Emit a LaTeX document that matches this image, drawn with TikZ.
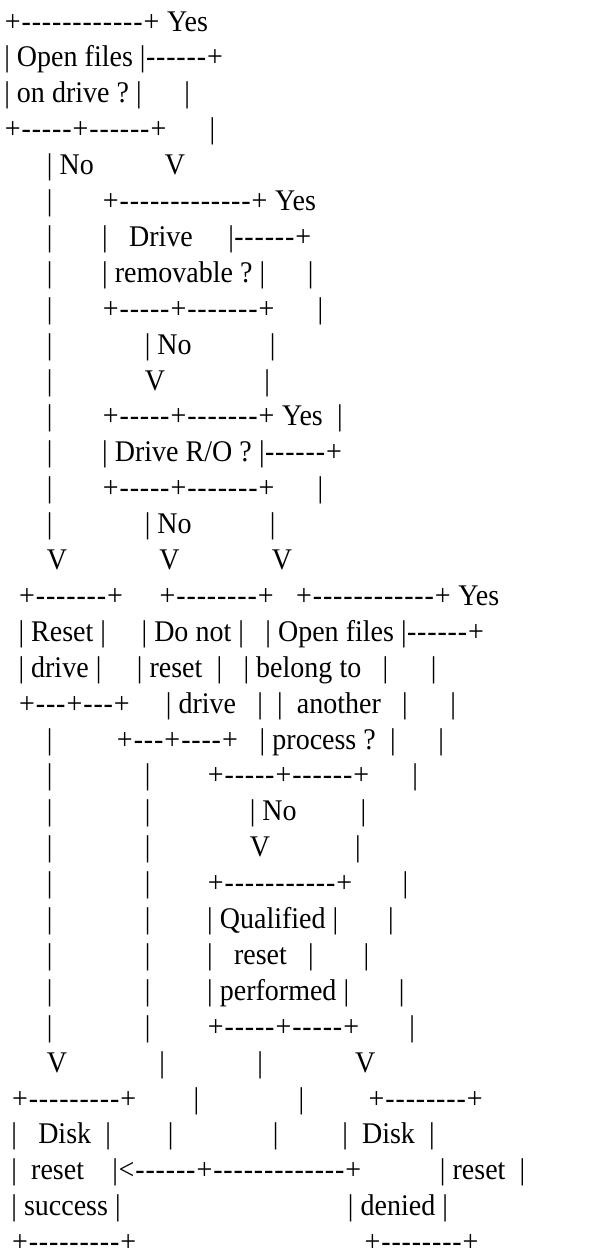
\documentclass[tikz,border=0pt]{standalone}
\usepackage{fontspec}
\newfontfamily\asc{Liberation Serif}[FakeStretch=0.933]
% widths of the box-drawing characters and of the blank
\newdimen\dashw \dashw=10.15pt
\newdimen\plusw \plusw=17pt
\newdimen\barw  \barw=5.5pt
\newdimen\spw   \spw=7.1pt
\gdef~{\hskip\spw\relax}
\begingroup
\catcode`\-=\active
\catcode`\+=\active
\catcode`\|=\active
\catcode`\<=\active
\gdef-{\hbox to\dashw{\hss\char"2D\hss}}
\gdef+{\hbox to\plusw{\hss\char"2B\hss}}
\gdef|{\hbox to\barw{\hss\char"7C\hss}}
\gdef<{\hbox to\plusw{\hss\char"3C\hss}}
\gdef\rowA{+------------+~Yes}
\gdef\rowB{|~Open~files~|------+}
\gdef\rowC{|~on~drive~?~|~~~~~~|}
\gdef\rowD{+-----+------+~~~~~~|}
\gdef\rowE{~~~~~~|~No~~~~~~~~~~V}
\gdef\rowF{~~~~~~|~~~~~~~+-------------+~Yes}
\gdef\rowG{~~~~~~|~~~~~~~|~~~Drive~~~~~|------+}
\gdef\rowH{~~~~~~|~~~~~~~|~removable~?~|~~~~~~|}
\gdef\rowI{~~~~~~|~~~~~~~+-----+-------+~~~~~~|}
\gdef\rowJ{~~~~~~|~~~~~~~~~~~~~|~No~~~~~~~~~~~|}
\gdef\rowK{~~~~~~|~~~~~~~~~~~~~V~~~~~~~~~~~~~~|}
\gdef\rowL{~~~~~~|~~~~~~~+-----+-------+~Yes~~|}
\gdef\rowM{~~~~~~|~~~~~~~|~Drive~R/O~?~|------+}
\gdef\rowN{~~~~~~|~~~~~~~+-----+-------+~~~~~~|}
\gdef\rowO{~~~~~~|~~~~~~~~~~~~~|~No~~~~~~~~~~~|}
\gdef\rowP{~~~~~~V~~~~~~~~~~~~~V~~~~~~~~~~~~~V}
\gdef\rowQ{~~+-------+~~~~~+--------+~~~+------------+~Yes}
\gdef\rowR{~~|~Reset~|~~~~~|~Do~not~|~~~|~Open~files~|------+}
\gdef\rowS{~~|~drive~|~~~~~|~reset~~|~~~|~belong~to~~~|~~~~~~|}
\gdef\rowT{~~+---+---+~~~~~|~drive~~~|~~|~~another~~~|~~~~~~|}
\gdef\rowU{~~~~~~|~~~~~~~~~+---+----+~~~|~process~?~~|~~~~~~|}
\gdef\rowV{~~~~~~|~~~~~~~~~~~~~|~~~~~~~~+-----+------+~~~~~~|}
\gdef\rowW{~~~~~~|~~~~~~~~~~~~~|~~~~~~~~~~~~~~|~No~~~~~~~~~|}
\gdef\rowX{~~~~~~|~~~~~~~~~~~~~|~~~~~~~~~~~~~~V~~~~~~~~~~~~|}
\gdef\rowY{~~~~~~|~~~~~~~~~~~~~|~~~~~~~~+-----------+~~~~~~~|}
\gdef\rowZ{~~~~~~|~~~~~~~~~~~~~|~~~~~~~~|~Qualified~|~~~~~~~|}
\gdef\rowAA{~~~~~~|~~~~~~~~~~~~~|~~~~~~~~|~~~reset~~~|~~~~~~~|}
\gdef\rowAB{~~~~~~|~~~~~~~~~~~~~|~~~~~~~~|~performed~|~~~~~~~|}
\gdef\rowAC{~~~~~~|~~~~~~~~~~~~~|~~~~~~~~+-----+-----+~~~~~~~|}
\gdef\rowAD{~~~~~~V~~~~~~~~~~~~~|~~~~~~~~~~~~~|~~~~~~~~~~~~~V}
\gdef\rowAE{~+---------+~~~~~~~~|~~~~~~~~~~~~~~|~~~~~~~~~+--------+}
\gdef\rowAF{~|~~~Disk~~|~~~~~~~~|~~~~~~~~~~~~~~|~~~~~~~~~|~~Disk~~|}
\gdef\rowAG{~|~~reset~~~~|<------+-------------+~~~~~~~~~~~|~reset~~|}
\gdef\rowAH{~|~success~|~~~~~~~~~~~~~~~~~~~~~~~~~~~~~~~~|~denied~|}
\gdef\rowAI{~+---------+~~~~~~~~~~~~~~~~~~~~~~~~~~~~~~~~+--------+}
\endgroup
\tikzset{
  row/.style={anchor=base west, inner sep=0pt, outer sep=0pt,
    font=\asc\fontsize{30}{36}\selectfont}
}
\begin{document}
\begin{tikzpicture}[x=1pt,y=1pt]
\fill[white] (0,0) rectangle (608,-1256);
\useasboundingbox (0,0) rectangle (608,-1256);
\def\lx{4.3}
\foreach \m [count=\i from 0] in {rowA,rowB,rowC,rowD,rowE,rowF,rowG,rowH,rowI,rowJ,
    rowK,rowL,rowM,rowN,rowO,rowP,rowQ,rowR,rowS,rowT,rowU,rowV,rowW,rowX,rowY,
    rowZ,rowAA,rowAB,rowAC,rowAD,rowAE,rowAF,rowAG,rowAH,rowAI}
  \node[row] (\m) at (\lx,{-31-35.9*\i}) {\csname\m\endcsname};
\end{tikzpicture}
\end{document}
